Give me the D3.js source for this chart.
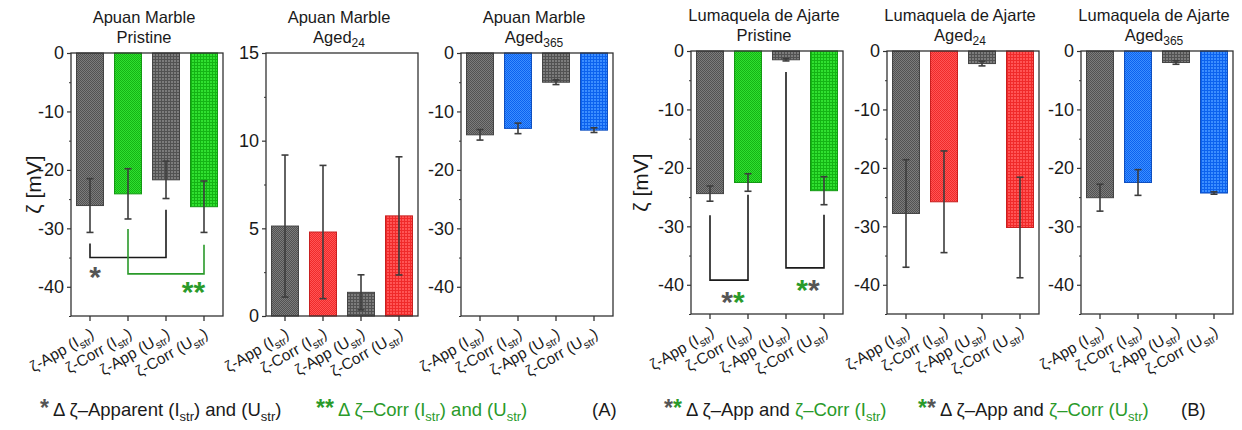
<!DOCTYPE html>
<html><head><meta charset="utf-8">
<script src="https://cdn.jsdelivr.net/npm/d3@7"></script>
<style>
html,body{margin:0;padding:0;background:#fff;}
svg{display:block;font-family:"Liberation Sans",Arial,sans-serif;}
</style></head>
<body>
<svg id="chart" width="1242" height="430"></svg>
<script>
// ---------- DATA ----------
const categories = ["ζ-App (I_str)", "ζ-Corr (I_str)", "ζ-App (U_str)", "ζ-Corr (U_str)"];
const panelTitles = ["Apuan Marble", "Apuan Marble", "Apuan Marble", "Lumaquela de Ajarte", "Lumaquela de Ajarte", "Lumaquela de Ajarte"];
const panelStates = ["Pristine", "Aged", "Aged", "Pristine", "Aged", "Aged"];
const panelStateSubs = ["", "24", "365", "", "24", "365"];

const amPristine = [-26.1, -24.1, -21.7, -26.3];
const amPristineErr = [4.6, 4.3, 3.2, 4.4];
const amAged24 = [5.13, 4.79, 1.35, 5.71];
const amAged24Err = [4.05, 3.8, 1.0, 3.37];
const amAged365 = [-14.0, -12.9, -5.0, -13.2];
const amAged365Err = [0.9, 0.9, 0.4, 0.4];
const laPristine = [-24.4, -22.5, -1.5, -23.9];
const laPristineErr = [1.3, 1.5, 0.2, 2.4];
const laAged24 = [-27.8, -25.8, -2.15, -30.2];
const laAged24Err = [9.2, 8.7, 0.4, 8.6];
const laAged365 = [-25.1, -22.5, -1.97, -24.3];
const laAged365Err = [2.3, 2.2, 0.3, 0.2];

const negDomain = [-45, 0];
const posDomain = [0, 15];
const negTicks = [0, -10, -20, -30, -40];
const negMinorTicks = [-5, -15, -25, -35, -45];
const posTicks = [0, 5, 10, 15];
const posMinorTicks = [2.5, 7.5, 12.5];

// ---------- LAYOUT / STYLE ----------
const svg = d3.select("#chart");
const W = 152, H = 263;
const panels = [
  {x: 71,  y: 53, vals: amPristine, errs: amPristineErr, dom: negDomain, ticks: negTicks, minor: negMinorTicks, col: "green"},
  {x: 266, y: 53, vals: amAged24,   errs: amAged24Err,   dom: posDomain, ticks: posTicks, minor: posMinorTicks, col: "red"},
  {x: 461, y: 53, vals: amAged365,  errs: amAged365Err,  dom: negDomain, ticks: negTicks, minor: negMinorTicks, col: "blue"},
  {x: 691, y: 51, vals: laPristine, errs: laPristineErr, dom: negDomain, ticks: negTicks, minor: negMinorTicks, col: "green"},
  {x: 887, y: 51, vals: laAged24,   errs: laAged24Err,   dom: negDomain, ticks: negTicks, minor: negMinorTicks, col: "red"},
  {x: 1081,y: 51, vals: laAged365,  errs: laAged365Err,  dom: negDomain, ticks: negTicks, minor: negMinorTicks, col: "blue"}
];

const palette = {
  grey:  {base: "#7c7c7c", dark: "#525252", stroke: "#444444"},
  green: {base: "#30e030", dark: "#14b414", stroke: "#139913"},
  red:   {base: "#ff5555", dark: "#f02a2a", stroke: "#c82020"},
  blue:  {base: "#3c8eff", dark: "#0c62ee", stroke: "#0f4fc0"}
};
const defs = svg.append("defs");
Object.entries(palette).forEach(([k, c]) => {
  const p1 = defs.append("pattern").attr("id", "chk-" + k).attr("patternUnits", "userSpaceOnUse").attr("width", 2).attr("height", 2);
  p1.append("rect").attr("width", 2).attr("height", 2).attr("fill", c.base);
  p1.append("rect").attr("width", 1).attr("height", 1).attr("fill", c.dark);
  p1.append("rect").attr("x", 1).attr("y", 1).attr("width", 1).attr("height", 1).attr("fill", c.dark);
  const p2 = defs.append("pattern").attr("id", "grd-" + k).attr("patternUnits", "userSpaceOnUse").attr("width", 3).attr("height", 3);
  p2.append("rect").attr("width", 3).attr("height", 3).attr("fill", c.base);
  p2.append("rect").attr("width", 3).attr("height", 1).attr("fill", c.dark);
  p2.append("rect").attr("width", 1).attr("height", 3).attr("fill", c.dark);
});

const axisCol = "#333";
const textCol = "#1a1a1a";

// Appends tspans; segments: {t, c, sub, star}
function appendSegs(sel, segs, size) {
  const shift = Math.round(size * 0.28);
  let lowered = false;
  segs.forEach(s => {
    const ts = sel.append("tspan").text(s.t);
    if (s.c) ts.attr("fill", s.c);
    if (s.sub) {
      ts.attr("font-size", Math.round(size * 0.68));
      if (!lowered) { ts.attr("dy", shift); lowered = true; }
    } else {
      if (lowered) { ts.attr("dy", -shift); lowered = false; }
      if (s.star) ts.attr("font-weight", "bold").attr("font-size", Math.round(size * 1.25));
    }
  });
}
function catSegs(str) {
  const parts = str.split(/_(str)/);
  return parts.map((p, i) => ({t: p, sub: i % 2 === 1})).filter(s => s.t !== "");
}

panels.forEach((P, pi) => {
  const g = svg.append("g").attr("transform", `translate(${P.x},${P.y})`);
  const x = d3.scaleBand().domain(categories).range([0, W]).paddingInner(0.29).paddingOuter(0.145);
  const y = d3.scaleLinear().domain(P.dom).range([H, 0]);

  // bars
  g.selectAll("rect.bar").data(P.vals).join("rect").attr("class", "bar")
    .attr("x", (d, i) => x(categories[i]))
    .attr("width", x.bandwidth())
    .attr("y", d => y(Math.max(0, d)))
    .attr("height", d => Math.abs(y(d) - y(0)))
    .attr("fill", (d, i) => {
      const c = (i % 2 === 0) ? "grey" : P.col;
      return `url(#${i < 2 ? "chk" : "grd"}-${c})`;
    })
    .attr("stroke", (d, i) => palette[(i % 2 === 0) ? "grey" : P.col].stroke)
    .attr("stroke-width", 1);

  // error bars
  const cx = i => x(categories[i]) + x.bandwidth() / 2;
  const eg = g.append("g").attr("stroke", "#3d3d3d").attr("stroke-width", 1.6);
  P.vals.forEach((v, i) => {
    const e = P.errs[i];
    eg.append("line").attr("x1", cx(i)).attr("x2", cx(i)).attr("y1", y(v + e)).attr("y2", y(v - e));
    eg.append("line").attr("x1", cx(i) - 3.5).attr("x2", cx(i) + 3.5).attr("y1", y(v + e)).attr("y2", y(v + e));
    eg.append("line").attr("x1", cx(i) - 3.5).attr("x2", cx(i) + 3.5).attr("y1", y(v - e)).attr("y2", y(v - e));
  });

  // frame
  g.append("rect").attr("width", W).attr("height", H).attr("fill", "none").attr("stroke", axisCol).attr("stroke-width", 1.3);

  // y axis
  const ya = g.append("g").call(d3.axisLeft(y).tickValues(P.ticks).tickSize(4).tickPadding(3).tickFormat(d => String(d)));
  ya.select(".domain").remove();
  ya.selectAll(".tick line").attr("stroke", axisCol).attr("stroke-width", 1.2);
  ya.selectAll(".tick text").attr("font-size", 18).attr("fill", textCol).attr("font-family", "Liberation Sans, Arial, sans-serif");
  const ym = g.append("g").call(d3.axisLeft(y).tickValues(P.minor).tickSize(2).tickFormat(""));
  ym.select(".domain").remove();
  ym.selectAll(".tick line").attr("stroke", axisCol);

  // x axis
  const xa = g.append("g").attr("transform", `translate(0,${H})`).call(d3.axisBottom(x).tickSize(5).tickFormat(""));
  xa.select(".domain").remove();
  xa.selectAll(".tick line").attr("stroke", axisCol).attr("stroke-width", 1.3);
  categories.forEach((c, i) => {
    const t = g.append("text").attr("text-anchor", "end").attr("font-size", 15.5).attr("fill", textCol)
      .attr("transform", `translate(${cx(i) + 5},${H + 21}) rotate(-30)`);
    appendSegs(t, catSegs(c), 15.5);
  });

  // titles
  g.append("text").attr("x", W / 2 - 3).attr("y", -30.5).attr("text-anchor", "middle").attr("font-size", 16.5).attr("fill", textCol).text(panelTitles[pi]);
  const t2 = g.append("text").attr("x", W / 2 - 3).attr("y", -10.5).attr("text-anchor", "middle").attr("font-size", 16.5).attr("fill", textCol);
  t2.append("tspan").text(panelStates[pi]);
  if (panelStateSubs[pi]) t2.append("tspan").attr("dy", 4).attr("font-size", 12).text(panelStateSubs[pi]);

  // y label
  if (pi === 0 || pi === 3) {
    const lx = pi === 0 ? -37 : -50;
    g.append("text").attr("transform", `translate(${lx},${H / 2}) rotate(-90)`).attr("text-anchor", "middle")
      .attr("dy", "0.35em").attr("font-size", 21).attr("fill", textCol).text("ζ [mV]");
  }

  P.g = g; P.xs = x; P.ys = y; P.cx = cx;
});

// ---------- significance brackets ----------
const darkGreen = "#2a9a2a";
const starGrey = "#555555";
function bracket(P, i1, i2, yTop1, yTop2, yBot, color) {
  const y = P.ys, cx = P.cx;
  P.g.append("path")
    .attr("d", `M${cx(i1)},${y(yTop1)}V${y(yBot)}H${cx(i2)}V${y(yTop2)}`)
    .attr("fill", "none").attr("stroke", color).attr("stroke-width", 1.6);
}
function stars(P, xPx, yPx, colors) {
  const t = P.g.append("text").attr("x", xPx).attr("y", yPx + 17).attr("text-anchor", "middle")
    .attr("font-size", 30).attr("font-weight", "bold");
  colors.forEach(c => t.append("tspan").attr("fill", c).text("*"));
}
// Apuan Marble pristine
bracket(panels[0], 0, 2, -32.6, -26.8, -35.0, "#1a1a1a");
bracket(panels[0], 1, 3, -30.1, -32.8, -37.8, darkGreen);
stars(panels[0], 95 - 71, 270 - 53, [starGrey]);
stars(panels[0], 193.5 - 71, 285 - 53, [darkGreen, darkGreen]);
// Lumaquela pristine
bracket(panels[3], 0, 1, -28.1, -24.6, -39.2, "#1a1a1a");
bracket(panels[3], 2, 3, -3.6, -28.0, -37.1, "#1a1a1a");
stars(panels[3], 733 - 691, 295 - 51, [starGrey, darkGreen]);
stars(panels[3], 808 - 691, 283 - 51, [darkGreen, starGrey]);

// ---------- legends ----------
const legendSize = 18.5;
function legendText(x, y, segs) {
  const t = svg.append("text").attr("x", x).attr("y", y).attr("font-size", legendSize).attr("fill", textCol);
  appendSegs(t, segs, legendSize);
  return t;
}
const LY = 416;
legendText(40, LY, [
  {t: "*", c: starGrey, star: true},
  {t: " Δ ζ–Apparent (I", c: textCol}, {t: "str", c: textCol, sub: true},
  {t: ") and (U", c: textCol}, {t: "str", c: textCol, sub: true}, {t: ")", c: textCol}
]);
legendText(316, LY, [
  {t: "**", c: darkGreen, star: true},
  {t: " Δ ζ–Corr (I", c: darkGreen}, {t: "str", c: darkGreen, sub: true},
  {t: ") and (U", c: darkGreen}, {t: "str", c: darkGreen, sub: true}, {t: ")", c: darkGreen}
]);
svg.append("text").attr("x", 592).attr("y", LY).attr("font-size", 18.5).attr("fill", textCol).text("(A)");
legendText(664, LY, [
  {t: "*", c: starGrey, star: true}, {t: "*", c: darkGreen, star: true},
  {t: " Δ ζ–App and ", c: textCol}, {t: "ζ–Corr", c: darkGreen},
  {t: " (I", c: darkGreen}, {t: "str", c: darkGreen, sub: true}, {t: ")", c: darkGreen}
]);
legendText(918, LY, [
  {t: "*", c: darkGreen, star: true}, {t: "*", c: starGrey, star: true},
  {t: " Δ ζ–App and ", c: textCol}, {t: "ζ–Corr", c: darkGreen},
  {t: " (U", c: darkGreen}, {t: "str", c: darkGreen, sub: true}, {t: ")", c: darkGreen}
]);
svg.append("text").attr("x", 1181).attr("y", LY).attr("font-size", 18.5).attr("fill", textCol).text("(B)");
</script>
</body></html>
